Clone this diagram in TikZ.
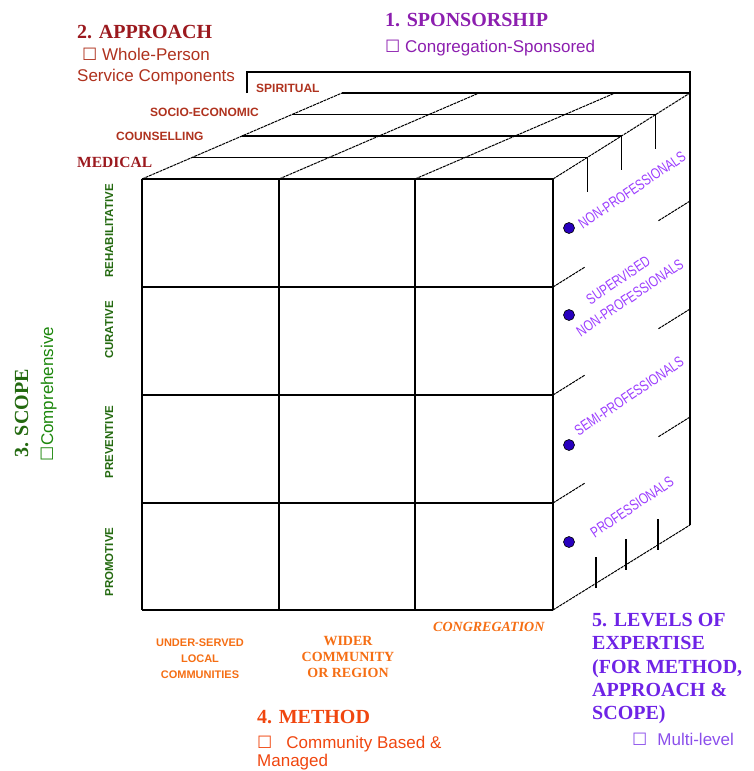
\documentclass[tikz,border=0pt]{standalone}
\usepackage{graphicx}
\usepackage{fontspec}
\setmainfont{Liberation Serif}
\setsansfont{Liberation Sans}
\newfontfamily\symfont{DejaVu Sans}
\usetikzlibrary{positioning}

\definecolor{approachred}{RGB}{155,25,30}
\definecolor{facetred}{RGB}{175,50,30}
\definecolor{sponsorpurple}{RGB}{140,30,175}
\definecolor{scopegreen}{RGB}{35,105,15}
\definecolor{methodorange}{RGB}{240,70,15}
\definecolor{colorange}{RGB}{245,110,20}
\definecolor{levelviolet}{RGB}{110,35,230}
\definecolor{sideviolet}{RGB}{155,60,255}
\definecolor{dotblue}{RGB}{40,0,190}

\newcommand{\bx}{{\symfont ☐}}
\newcommand{\cond}[1]{\scalebox{0.76}[1]{#1}}

\tikzset{
  every node/.style={inner sep=0pt},
  head/.style={font=\fontsize{20}{23}\selectfont\bfseries, anchor=base west},
  subtext/.style={font=\sffamily\fontsize{17}{20}\selectfont, anchor=base west},
  facet/.style={font=\sffamily\bfseries\fontsize{12}{14}\selectfont, text=facetred, anchor=base west},
  rowlabel/.style={font=\sffamily\bfseries\fontsize{11.5}{13}\selectfont, text=scopegreen, rotate=90, anchor=base},
  sidelabel/.style={font=\sffamily\fontsize{15}{21}\selectfont, text=sideviolet, rotate=34, align=center},
  dot/.style={circle, fill=dotblue, draw=black, line width=0.6pt, minimum size=11pt},
  gridline/.style={line width=1.4pt},
  slant/.style={line width=1pt, dash pattern=on 3pt off 0.8pt}
}

\begin{document}
\begin{tikzpicture}[x=1pt,y=-1pt]
  \useasboundingbox (0,0) rectangle (754,771);

  % Cara frontal
  \foreach \x in {142,279,415,553}
    \draw[gridline] (\x,179) -- (\x,610);
  \foreach \y in {179,287,395,503,610}
    \draw[gridline] (142,\y) -- (553,\y);

  % Cara superior
  \foreach \k in {1,...,4}
    \draw[gridline] ({142+50*\k},{179-21.5*\k}) -- ({553+34.25*\k},{179-21.5*\k});
  \foreach \x in {142,279,415}
    \draw[slant] (\x,179) -- ++(200,-86);
  \draw[slant] (553,179) -- (690,93);
  \foreach \k in {1,2,3}
    \draw[gridline] ({553+34.25*\k},{179-21.5*\k}) -- ++(0,34);
  \draw[gridline] (247,93) -- (247,72) -- (690,72) -- (690,525);

  % Cara lateral
  \draw[slant] (553,610) -- (690,525);
  \foreach \y in {287,395,503} {
    \draw[slant] (553,\y) -- ++(32,-20);
    \draw[slant] (690,\y-86) -- ++(-32,20);
  }
  \foreach \x/\y in {596/583,626/564.5,658/544.5}
    \draw[gridline] (\x,\y+5) -- (\x,\y-26);

  % 1. Sponsorship
  \node[head, text=sponsorpurple] (sponsor) at (385,27) {1. SPONSORSHIP};
  \node[subtext, text=sponsorpurple] (sponsorsub) at (385,52) {\bx\ Congregation-Sponsored};

  % 2. Approach
  \node[head, text=approachred] (approach) at (77,38) {2. APPROACH};
  \node[subtext, text=facetred] (approachsub) at (82,60) {\bx\ Whole-Person};
  \node[subtext, text=facetred] (approachsub2) at (77,81) {Service Components};
  \node[facet] (spiritual) at (256,92.5) {SPIRITUAL};
  \node[facet] (socio) at (150,116) {SOCIO-ECONOMIC};
  \node[facet] (counsel) at (116,140) {COUNSELLING};
  \node[font=\fontsize{15.5}{17}\selectfont\bfseries, text=approachred, anchor=base west] (medical) at (77,167) {MEDICAL};

  % 3. Scope
  \node[font=\fontsize{20}{23}\selectfont\bfseries, text=scopegreen, rotate=90, anchor=base] (scope) at (28,413.5) {3. SCOPE};
  \node[font=\sffamily\fontsize{17}{20}\selectfont, text=scopegreen!80!green, rotate=90, anchor=base] (scopesub) at (53,394) {\bx Comprehensive};
  \node[rowlabel] (rehab) at (113,231) {REHABILITATIVE};
  \node[rowlabel] (curative) at (113,330) {CURATIVE};
  \node[rowlabel] (preventive) at (113,442) {PREVENTIVE};
  \node[rowlabel] (promotive) at (113,562) {PROMOTIVE};

  % 4. Method
  \node[font=\sffamily\bfseries\fontsize{11}{16}\selectfont, text=colorange, align=center, anchor=north] (underserved) at (200,639) {UNDER-SERVED\\LOCAL\\COMMUNITIES};
  \node[font=\fontsize{14}{16}\selectfont\bfseries, text=colorange, align=center, anchor=north] (wider) at (348,636) {WIDER\\COMMUNITY\\OR REGION};
  \node[font=\fontsize{14}{16}\selectfont\bfseries\itshape, text=colorange, anchor=base west] (congregation) at (433,631) {CONGREGATION};
  \node[head, text=methodorange] (method) at (257,723) {4. METHOD};
  \node[subtext, text=methodorange] (methodsub) at (257,748) {\bx\hspace{14pt}Community Based \&};
  \node[subtext, text=methodorange] (methodsub2) at (257,766) {Managed};

  % 5. Levels of expertise
  \node[font=\fontsize{20}{23.3}\selectfont\bfseries, text=levelviolet, align=left, anchor=north west] (levels) at (592,613) {5. LEVELS OF\\EXPERTISE\\(FOR METHOD,\\APPROACH \&\\SCOPE)};
  \node[subtext, text=levelviolet!80!white] (levelsub) at (632,745) {\bx\hspace{10pt}Multi-level};

  % Niveles en la cara lateral
  \node[dot] (d1) at (569,228) {};
  \node[dot] (d2) at (569,315) {};
  \node[dot] (d3) at (569,445) {};
  \node[dot] (d4) at (569,542) {};
  \node[sidelabel] (nonprof) at (632,190) {\cond{NON-PROFESSIONALS}};
  \node[sidelabel] (supervised) at (624,289) {\cond{SUPERVISED}\\\cond{NON-PROFESSIONALS}};
  \node[sidelabel] (semiprof) at (629,396) {\cond{SEMI-PROFESSIONALS}};
  \node[sidelabel] (prof) at (632,507) {\cond{PROFESSIONALS}};
\end{tikzpicture}
\end{document}
